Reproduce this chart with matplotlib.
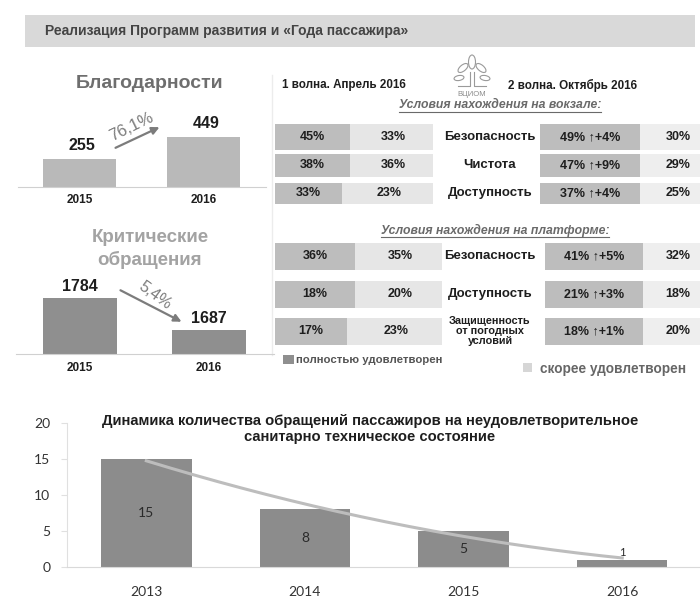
import numpy as np
import matplotlib
matplotlib.use('Agg')
import matplotlib.pyplot as plt
from matplotlib.patches import Rectangle, Ellipse, FancyArrowPatch

# ---------------- data ----------------
header_title = 'Реализация Программ развития и «Года пассажира»'

thanks_title = 'Благодарности'
thanks_years = ['2015', '2016']
thanks_values = [255, 449]
thanks_change = '76,1%'

critical_title = ['Критические', 'обращения']
critical_years = ['2015', '2016']
critical_values = [1784, 1687]
critical_change = '5,4%'

wave1_title = '1 волна. Апрель 2016'
wave2_title = '2 волна. Октябрь 2016'

station_header = 'Условия нахождения на вокзале:'
station_criteria = ['Безопасность', 'Чистота', 'Доступность']
station_w1_full = [45, 38, 33]
station_w1_rather = [33, 36, 23]
station_w2_full = [49, 47, 37]
station_w2_rather = [30, 29, 25]

platform_header = 'Условия нахождения на платформе:'
platform_criteria = ['Безопасность', 'Доступность', 'Защищенность\nот погодных\nусловий']
platform_w1_full = [36, 18, 17]
platform_w1_rather = [35, 20, 23]
platform_w2_full = [41, 21, 18]
platform_w2_rather = [32, 18, 20]

legend_labels = ['полностью удовлетворен', 'скорее удовлетворен']

dyn_title = ('Динамика количества обращений пассажиров на неудовлетворительное\n'
             'санитарно техническое состояние')
dyn_years = ['2013', '2014', '2015', '2016']
dyn_values = [15, 8, 5, 1]
dyn_yticks = [0, 5, 10, 15, 20]

# ---------------- style ----------------
plt.rcParams['font.family'] = ['Liberation Sans', 'DejaVu Sans']
W, H = 700, 610
fig = plt.figure(figsize=(7, 6.1), dpi=100)
fig.patch.set_facecolor('white')


def px_axes(x0, y0, x1, y1, **kw):
    return fig.add_axes([x0 / W, 1 - y1 / H, (x1 - x0) / W, (y1 - y0) / H], **kw)


DARK_CELL = '#bdbdbd'
LIGHT_CELL = '#e6e6e6'
LIGHT_CELL2 = '#eeeeee'
TXT = '#1e1e1e'

# background/pixel layer
bg = px_axes(0, 0, W, H)
bg.set_xlim(0, W)
bg.set_ylim(H, 0)
bg.axis('off')

# header band
bg.add_patch(Rectangle((25, 15), 670, 32, color='#d9d9d9', lw=0))
bg.text(45, 31, header_title, fontsize=10, weight='bold', color='#444444', va='center')

# faint divider
bg.plot([272, 272], [75, 355], color='#ececec', lw=1)

# ---------------- Благодарности ----------------
bg.text(150, 84, thanks_title, fontsize=14, weight='bold', color='#6e6e6e',
        ha='center', va='center')
ax1 = px_axes(17.5, 100, 265.5, 187)
x1 = np.arange(len(thanks_values))
bars1 = ax1.bar(x1, thanks_values, width=0.59, color='#b9b9b9')
ax1.set_xlim(-0.5, 1.5)
ax1.set_ylim(0, 780)
for b, v in zip(bars1, thanks_values):
    ax1.annotate(str(v), (b.get_x() + b.get_width() / 2, v), xytext=(2, 4),
                 textcoords='offset points', ha='center', va='bottom',
                 fontsize=11.5, weight='bold', color=TXT)
ax1.set_xticks(x1)
ax1.set_xticklabels(thanks_years, fontsize=8.5, weight='bold', color=TXT)
ax1.tick_params(axis='x', length=0, pad=5)
ax1.set_yticks([])
for s in ['top', 'right', 'left']:
    ax1.spines[s].set_visible(False)
ax1.spines['bottom'].set_color('#d0d0d0')
ax1.patch.set_alpha(0)

bg.add_patch(FancyArrowPatch((113, 149), (162, 126), arrowstyle='-|>', mutation_scale=11,
                             color='#7c7c7c', lw=1.6))
bg.text(131, 127, thanks_change, fontsize=12, color='#7c7c7c', rotation=26,
        ha='center', va='center')

# ---------------- Критические обращения ----------------
bg.text(150, 237, critical_title[0], fontsize=13.5, weight='bold', color='#a3a3a3',
        ha='center', va='center')
bg.text(150, 260, critical_title[1], fontsize=13.5, weight='bold', color='#a3a3a3',
        ha='center', va='center')
ax2 = px_axes(15.5, 270, 273.5, 354)
x2 = np.arange(len(critical_values))
bars2 = ax2.bar(x2, critical_values, width=0.57, color='#8f8f8f')
ax2.set_xlim(-0.5, 1.5)
ax2.set_ylim(1614, 1868)
for b, v in zip(bars2, critical_values):
    ax2.annotate(str(v), (b.get_x() + b.get_width() / 2, v), xytext=(0, 3),
                 textcoords='offset points', ha='center', va='bottom',
                 fontsize=11.5, weight='bold', color=TXT)
ax2.set_xticks(x2)
ax2.set_xticklabels(critical_years, fontsize=8.5, weight='bold', color=TXT)
ax2.tick_params(axis='x', length=0, pad=6)
ax2.set_yticks([])
for s in ['top', 'right', 'left']:
    ax2.spines[s].set_visible(False)
ax2.spines['bottom'].set_color('#d0d0d0')
ax2.patch.set_alpha(0)

bg.add_patch(FancyArrowPatch((118, 289), (184, 323), arrowstyle='-|>', mutation_scale=11,
                             color='#7c7c7c', lw=1.6))
bg.text(155, 296, critical_change, fontsize=11.5, color='#7c7c7c', rotation=-36,
        ha='center', va='center')

# ---------------- survey ----------------
bg.text(282, 85, wave1_title, fontsize=8.4, weight='bold', color=TXT, va='center')
bg.text(508, 85, wave2_title, fontsize=8.4, weight='bold', color=TXT, va='center')

# ВЦИОМ logo (simple)
lc = '#9a9a9a'
for cx, cy, w, h, ang in [(472, 62, 7, 14, 0), (463, 68, 6, 12, 50), (481, 68, 6, 12, -50),
                          (459, 78, 5, 10, 80), (485, 78, 5, 10, -80)]:
    bg.add_patch(Ellipse((cx, cy), w, h, angle=ang, fill=False, ec=lc, lw=0.8))
bg.plot([470, 470, 458], [72, 86, 86], color=lc, lw=0.8)
bg.plot([474, 474, 486], [72, 86, 86], color=lc, lw=0.8)
bg.text(472, 95, 'ВЦИОМ', fontsize=5.5, color='#8a8a8a', ha='center', va='center')

hdr_kw = dict(fontsize=8.8, weight='bold', style='italic', color='#6a6a6a',
              ha='center', va='center')
t = bg.text(500, 105, station_header, **hdr_kw)
t2 = bg.text(495, 230, platform_header, **hdr_kw)

# underline the section headers
fig.canvas.draw()
inv = bg.transData.inverted()
for tt in (t, t2):
    bb = tt.get_window_extent()
    (xa, ya), (xb, yb) = inv.transform([[bb.x0, bb.y0], [bb.x1, bb.y1]])
    bg.plot([xa, xb], [ya + 0.5, ya + 0.5], color='#6a6a6a', lw=0.8)

val_kw = dict(fontsize=9, weight='bold', color=TXT, ha='center', va='center')
lab_kw = dict(fontsize=9.5, weight='bold', color=TXT, ha='center', va='center')


def draw_block(centers, heights, splits_left, left_end, right_split, criteria,
               w1f, w1r, w2f, w2r, right_start, lab_sizes):
    for i in range(len(criteria)):
        yc, h = centers[i], heights[i]
        # left (wave 1)
        bg.barh(yc, splits_left[i] - 275, left=275, height=h, color=DARK_CELL, lw=0)
        bg.barh(yc, left_end - splits_left[i], left=splits_left[i], height=h,
                color=LIGHT_CELL, lw=0)
        bg.text((275 + splits_left[i]) / 2, yc, f'{w1f[i]}%', **val_kw)
        bg.text((splits_left[i] + left_end) / 2 + 2, yc, f'{w1r[i]}%', **val_kw)
        # right (wave 2)
        bg.barh(yc, right_split - right_start, left=right_start, height=h,
                color=DARK_CELL, lw=0)
        bg.barh(yc, W - right_split, left=right_split, height=h, color=LIGHT_CELL2, lw=0)
        d = w2f[i] - w1f[i]
        bg.text((right_start + right_split) / 2, yc, f'{w2f[i]}% ↑+{d}%', **val_kw)
        bg.text(678, yc, f'{w2r[i]}%', **val_kw)
        # criterion label
        kw = dict(lab_kw)
        kw['fontsize'] = lab_sizes[i]
        bg.text(490, yc, criteria[i], linespacing=1.05, **kw)


draw_block([137, 165, 193], [26, 23, 21], [350, 350, 342], 433, 640, station_criteria,
           station_w1_full, station_w1_rather, station_w2_full, station_w2_rather, 540,
           [9.5, 9.5, 9.5])
draw_block([256, 294, 331], [27, 27, 27], [355, 355, 347], 442, 643, platform_criteria,
           platform_w1_full, platform_w1_rather, platform_w2_full, platform_w2_rather, 545,
           [9.5, 9.5, 7.8])

# legend
bg.add_patch(Rectangle((283, 355), 11, 9, color='#8f8f8f', lw=0))
bg.text(296, 360, legend_labels[0], fontsize=8.2, weight='bold', color='#555555',
        va='center')
bg.add_patch(Rectangle((523, 363), 9, 9, color='#d6d6d6', lw=0))
bg.text(540, 369, legend_labels[1], fontsize=9.8, weight='bold', color='#666666',
        va='center')

# ---------------- bottom chart ----------------
ax3 = px_axes(67, 423, 700, 567)
x3 = np.arange(len(dyn_values))
bars3 = ax3.bar(x3, dyn_values, width=0.57, color='#8c8c8c', zorder=2)
ax3.set_xlim(-0.5, 3.49)
ax3.set_ylim(0, 20)
coef = np.polyfit(x3, dyn_values, 2)
xs = np.linspace(x3[0], x3[-1], 200)
ax3.plot(xs, np.polyval(coef, xs), color='#bdbdbd', lw=2.2, zorder=3)
for b, v in zip(bars3, dyn_values):
    cx = b.get_x() + b.get_width() / 2
    if v > 2:
        ax3.text(cx, v / 2, str(v), ha='center', va='center', fontsize=10,
                 family='Lato', color='#2a2a2a', zorder=4)
    else:
        ax3.annotate(str(v), (cx, v), xytext=(0, 1), textcoords='offset points',
                     ha='center', va='bottom', fontsize=8, family='Lato',
                     color='#2a2a2a', zorder=4)
ax3.set_xticks(x3)
ax3.set_xticklabels(dyn_years, fontsize=10, family='Lato', color='#333333')
ax3.set_yticks(dyn_yticks)
ax3.set_yticklabels([str(v) for v in dyn_yticks], fontsize=10, family='Lato',
                    color='#333333')
ax3.tick_params(axis='x', length=0, pad=14)
ax3.tick_params(axis='y', length=4, color='#e0e0e0', pad=8)
for s in ['top', 'right']:
    ax3.spines[s].set_visible(False)
ax3.spines['left'].set_color('#e0e0e0')
ax3.spines['bottom'].set_color('#d9d9d9')
ax3.patch.set_alpha(0)

fig.text(370 / W, 1 - 429 / H, dyn_title, fontsize=10.6, weight='bold', color='#1e1e1e',
         ha='center', va='center', linespacing=1.25)

fig.savefig('out.png', dpi=100)
